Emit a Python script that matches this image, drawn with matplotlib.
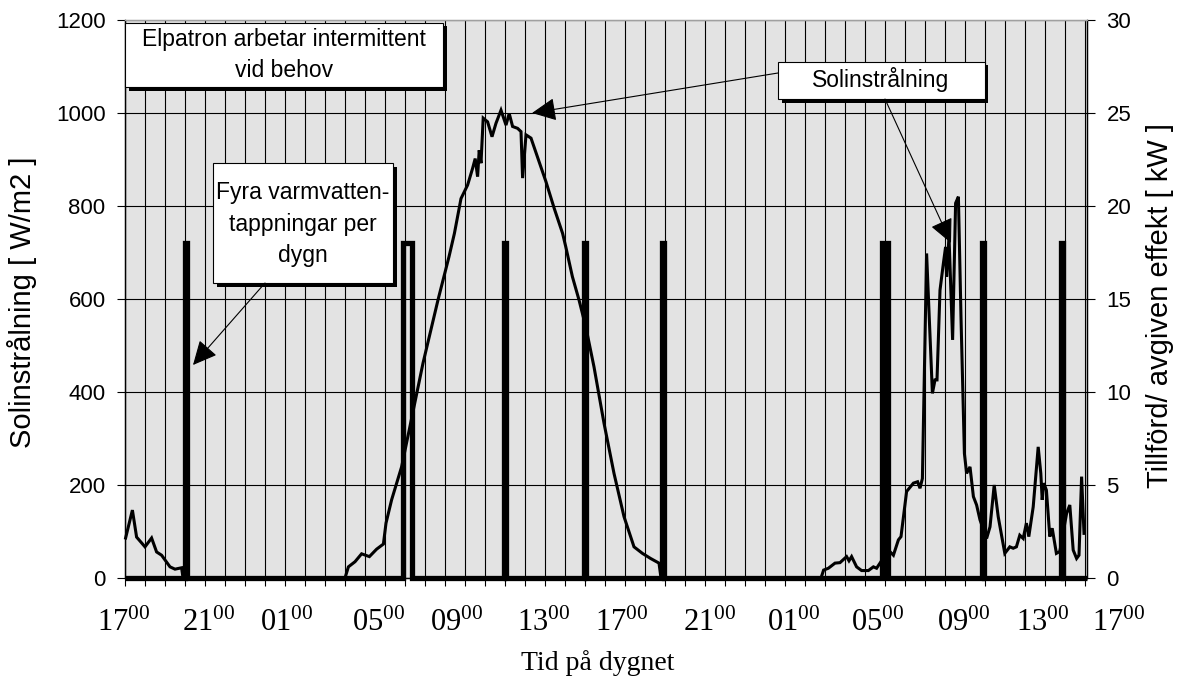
import matplotlib
matplotlib.use('Agg')
import matplotlib.pyplot as plt
import numpy as np
from matplotlib.patches import Rectangle

plt.rcParams['font.family'] = ['Liberation Sans', 'DejaVu Sans']
plt.rcParams['mathtext.fontset'] = 'custom'
plt.rcParams['mathtext.rm'] = 'Liberation Serif'

# ---- data -------------------------------------------------------------
# hours since 17:00 on the first day, solar radiation in W/m2
solar_h = [0.03, 0.37, 0.58, 1.0, 1.33, 1.58, 1.83, 2.25, 2.5, 2.83, 2.9,
           11.0, 11.17, 11.5, 11.83, 12.22, 12.58, 12.92, 13.05, 13.33, 13.83,
           14.33, 14.9, 15.65, 16.2, 16.47, 16.8, 16.97, 17.13, 17.38, 17.51,
           17.63, 17.71, 17.8, 17.91, 18.13, 18.35, 18.55, 18.8, 19.05, 19.21,
           19.38, 19.63, 19.8, 19.88, 20.05, 20.3, 20.71, 21.05, 21.46, 21.88,
           22.04, 22.37, 22.7, 23.04, 23.45, 23.95, 24.45, 24.95, 25.45, 25.87,
           26.28, 26.7, 26.8,
           34.8, 34.93, 35.17, 35.5, 35.75, 36.08, 36.2, 36.33, 36.58, 36.83,
           37.17, 37.42, 37.58, 37.75, 38.17, 38.42, 38.67, 38.8, 39.08, 39.42,
           39.63, 39.75, 39.87, 40.08, 40.37, 40.5, 40.6, 40.75, 40.92, 41.03,
           41.08, 41.2, 41.38, 41.53, 41.67, 41.8, 41.97, 42.08, 42.25, 42.42,
           42.58, 42.75, 43.08, 43.25, 43.46, 43.66, 43.99, 44.24, 44.41, 44.57,
           44.74, 44.91, 45.07, 45.19, 45.41, 45.66, 45.79, 45.86, 45.94, 46.07,
           46.24, 46.36, 46.57, 46.74, 47.08, 47.24, 47.41, 47.58, 47.7, 47.83,
           47.95]
solar_w = [86, 146, 88, 67, 86, 56, 49, 24, 19, 22, 0,
           0, 24, 35, 52, 46, 62, 73, 118, 168, 239,
           343, 462, 598, 691, 741, 816, 831, 845, 881, 902,
           863, 920, 892, 989, 981, 949, 978, 1006, 974, 999,
           971, 967, 960, 860, 953, 946, 895, 852, 795, 741,
           712, 648, 598, 540, 454, 333, 225, 132, 67, 53,
           42, 32, 0,
           0, 17, 21, 32, 33, 46, 37, 46, 24, 16,
           16, 24, 21, 32, 60, 49, 82, 89, 186, 204,
           207, 193, 214, 698, 397, 426, 426, 619, 677, 712,
           648, 734, 512, 806, 820, 560, 268, 225, 239, 175,
           157, 125, 85, 110, 200, 132, 53, 67, 64, 67,
           92, 85, 118, 89, 153, 282, 225, 168, 204, 189,
           89, 107, 53, 57, 139, 157, 60, 42, 49, 218,
           96]

# hot-water taps: electric heater on (hours since 17:00), kW
tap_start = [3.0, 13.9, 18.95, 22.96, 26.85, 37.85, 42.84, 46.82]
tap_end = [3.1, 14.35, 19.05, 23.06, 26.95, 38.15, 42.94, 46.92]
tap_kw = 18

hour_labels = ['17', '21', '01', '05', '09', '13', '17',
               '21', '01', '05', '09', '13', '17']
label_hours = [-0.08, 4.2, 8.07, 12.7, 16.6, 20.95, 24.85,
               29.25, 33.45, 37.65, 41.95, 45.9, 49.7]

left_ticks = [0, 200, 400, 600, 800, 1000, 1200]
right_ticks = [0, 5, 10, 15, 20, 25, 30]

# ---- figure -----------------------------------------------------------
W, H = 1190, 693
fig = plt.figure(figsize=(W / 100, H / 100), dpi=100)
L, R, T, B = 125, 1087, 20, 578
ax = fig.add_axes([L / W, (H - B) / H, (R - L) / W, (B - T) / H])
ax.set_xlim(0, 48.1)
ax.set_ylim(0, 1200)
ax.set_facecolor('#e3e3e3')
ax.set_axisbelow(True)
ax.set_xticks(np.arange(0, 49, 1))
ax.set_xticklabels([])
ax.set_yticks(left_ticks)
ax.set_yticklabels([str(v) for v in left_ticks], fontsize=16)
ax.grid(True, color='black', lw=0.8)
ax.tick_params(axis='x', direction='out', length=6, width=0.8, color='black')
ax.tick_params(axis='y', direction='out', length=6, width=0.8, pad=8)

ax.plot(solar_h, solar_w, color='black', lw=2.2, zorder=3, clip_on=False,
        solid_joinstyle='miter')

ax2 = ax.twinx()
ax2.set_ylim(0, 30)
ax2.set_yticks(right_ticks)
ax2.set_yticklabels([str(v) for v in right_ticks], fontsize=16)
ax2.tick_params(axis='y', direction='out', length=6, width=0.8, pad=8)

pt, pv = [0.0], [0]
for s, e in zip(tap_start, tap_end):
    pt += [s, s, e, e]
    pv += [0, tap_kw, tap_kw, 0]
pt.append(48.1)
pv.append(0)
ax2.plot(pt, pv, color='black', lw=3.8, zorder=3, clip_on=False,
         solid_joinstyle='miter', solid_capstyle='butt')

for a in (ax, ax2):
    for sp in a.spines.values():
        sp.set_color('black')
        sp.set_linewidth(0.9)
    a.spines['top'].set_color('#a0a0a0')

# x tick labels (hand placed like the original)
for hlab, hx in zip(hour_labels, label_hours):
    ax.text(hx, -0.095, hlab + r'$\mathregular{^{00}}$',
            transform=ax.get_xaxis_transform(), ha='center', va='baseline',
            fontsize=22, family='Liberation Serif', clip_on=False)

fig.text(598 / W, 1 - 663 / H, 'Tid på dygnet', ha='center', va='center',
         fontsize=20, family='Liberation Serif')
fig.text(22 / W, 1 - 302 / H, 'Solinstrålning [ W/m2 ]', rotation=90,
         ha='center', va='center', fontsize=21)
fig.text(1160 / W, 1 - 305 / H, 'Tillförd/ avgiven effekt [ kW ]',
         rotation=90, ha='center', va='center', fontsize=21)


def box(x0, y0, x1, y1, text, cx, cy, ls=1.2):
    sh = 3.5
    ax2.add_patch(Rectangle(((x0 + sh) / W, 1 - (y1 + sh) / H), (x1 - x0) / W,
                            (y1 - y0) / H, transform=fig.transFigure,
                            fc='black', ec='black', lw=0, clip_on=False,
                            zorder=5))
    ax2.add_patch(Rectangle((x0 / W, 1 - y1 / H), (x1 - x0) / W,
                            (y1 - y0) / H, transform=fig.transFigure,
                            fc='white', ec='black', lw=0.8, clip_on=False,
                            zorder=6))
    ax2.text(cx / W, 1 - cy / H, text, transform=fig.transFigure,
             ha='center', va='center', fontsize=16.5, zorder=7,
             linespacing=ls)


def arrow(x0, y0, x1, y1):
    ax2.annotate('', xy=(x1, H - y1), xytext=(x0, H - y0),
                 xycoords='figure pixels', textcoords='figure pixels',
                 arrowprops=dict(arrowstyle='-|>,head_length=0.75,head_width=0.36',
                                 mutation_scale=20, lw=0.8, color='black',
                                 shrinkA=0, shrinkB=0),
                 zorder=8)


box(125, 23, 443, 87, 'Elpatron arbetar intermittent\nvid behov', 284, 55,
    ls=1.42)
box(213, 163, 393, 283, 'Fyra varmvatten-\ntappningar per\ndygn', 303, 224,
    ls=1.45)
box(778, 62, 985, 99, 'Solinstrålning', 881, 80)

arrow(265, 283, 193, 365)
arrow(778, 73, 532, 113)
arrow(885, 99, 951, 243)

fig.savefig('out.png', dpi=100)
